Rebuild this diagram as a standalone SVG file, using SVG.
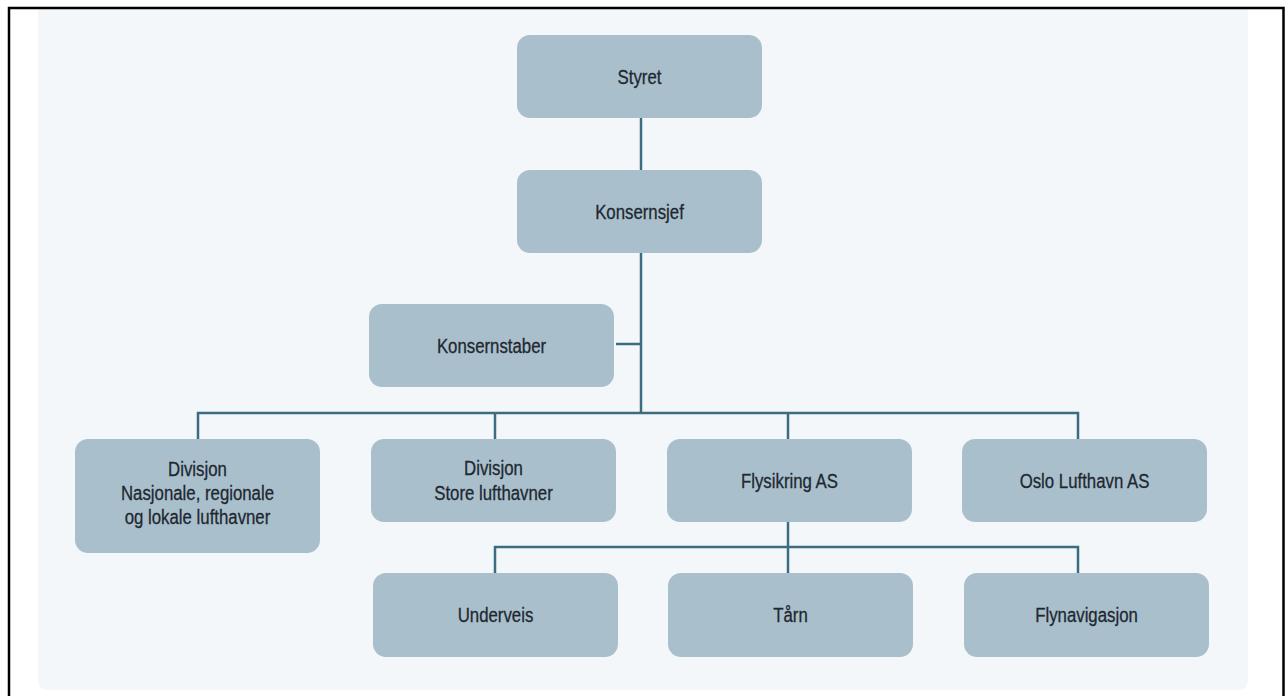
<svg xmlns="http://www.w3.org/2000/svg" width="1285" height="696" viewBox="0 0 1285 696">
<style>
.node{fill:#aabfcc}
.t{font-family:"Liberation Sans",Arial,sans-serif;font-size:21px;fill:#1d2830;text-anchor:middle;stroke:#1d2830;stroke-width:0.3}
.c{stroke:#3b6c7f;stroke-width:2.5;fill:none}
</style>
<rect x="0" y="0" width="1285" height="696" fill="#ffffff"/>
<path d="M38,9 H1248 V680 Q1248,690 1238,690 H48 Q38,690 38,680 Z" fill="#f3f7fa"/>
<path d="M9,700 V8 H1283.5 V700" fill="none" stroke="#000" stroke-width="2.5"/>
<g id="connectors">
<line class="c" x1="641" y1="118" x2="641" y2="170"/>
<line class="c" x1="641" y1="253" x2="641" y2="413"/>
<line class="c" x1="616" y1="344" x2="641" y2="344"/>
<polyline class="c" points="198,439 198,413 1078,413 1078,439"/>
<line class="c" x1="495" y1="413" x2="495" y2="439"/>
<line class="c" x1="788" y1="413" x2="788" y2="439"/>
<line class="c" x1="788" y1="522" x2="788" y2="573"/>
<polyline class="c" points="495,573 495,547 1078,547 1078,573"/>
</g>
<g id="styret"><rect class="node" x="517" y="35" width="245" height="83" rx="13"/><text class="t" transform="translate(639.5,84) scale(0.8,1)">Styret</text></g>
<g id="konsernsjef"><rect class="node" x="517" y="170" width="245" height="83" rx="13"/><text class="t" transform="translate(639.5,219) scale(0.8,1)">Konsernsjef</text></g>
<g id="konsernstaber"><rect class="node" x="369" y="304" width="245" height="83" rx="13"/><text class="t" transform="translate(491.5,353) scale(0.8,1)">Konsernstaber</text></g>
<g id="div-nrl"><rect class="node" x="75" y="439" width="245" height="114" rx="13"/><text class="t" transform="translate(197.5,476) scale(0.8,1)"><tspan x="0" y="0">Divisjon</tspan><tspan x="0" y="24">Nasjonale, regionale</tspan><tspan x="0" y="48">og lokale lufthavner</tspan></text></g>
<g id="div-store"><rect class="node" x="371" y="439" width="245" height="83" rx="13"/><text class="t" transform="translate(493.5,475) scale(0.8,1)"><tspan x="0" y="0">Divisjon</tspan><tspan x="0" y="25">Store lufthavner</tspan></text></g>
<g id="flysikring"><rect class="node" x="667" y="439" width="245" height="83" rx="13"/><text class="t" transform="translate(789.5,488) scale(0.8,1)">Flysikring AS</text></g>
<g id="oslo"><rect class="node" x="962" y="439" width="245" height="83" rx="13"/><text class="t" transform="translate(1084.5,488) scale(0.8,1)">Oslo Lufthavn AS</text></g>
<g id="underveis"><rect class="node" x="373" y="573" width="245" height="84" rx="13"/><text class="t" transform="translate(495.5,622) scale(0.8,1)">Underveis</text></g>
<g id="taarn"><rect class="node" x="668" y="573" width="245" height="84" rx="13"/><text class="t" transform="translate(790.5,622) scale(0.8,1)">Tårn</text></g>
<g id="flynavigasjon"><rect class="node" x="964" y="573" width="245" height="84" rx="13"/><text class="t" transform="translate(1086.5,622) scale(0.8,1)">Flynavigasjon</text></g>
</svg>
